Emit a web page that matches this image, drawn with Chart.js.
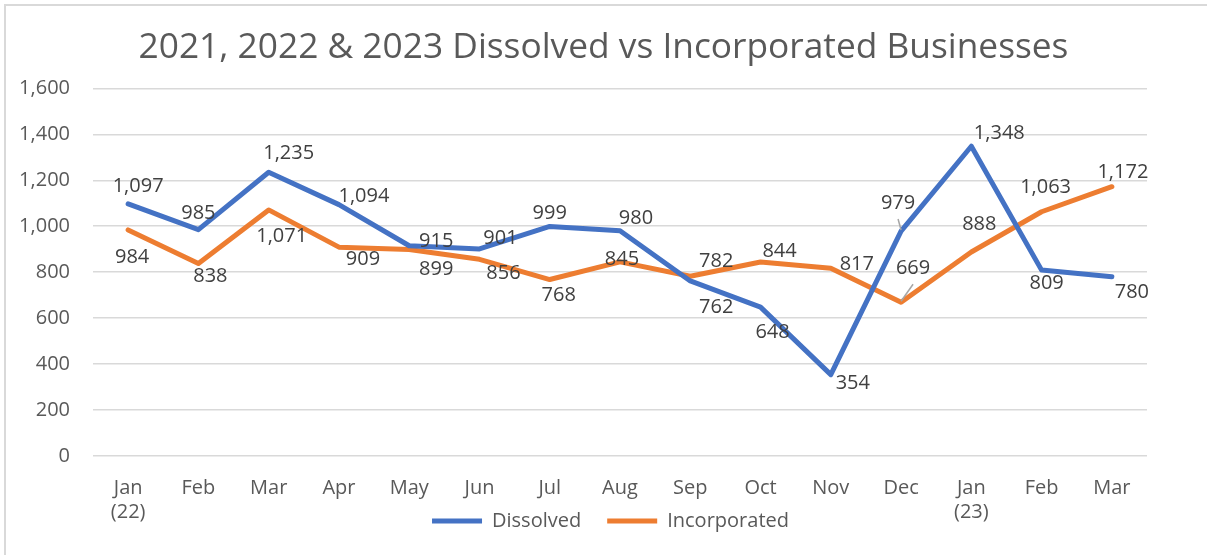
<!DOCTYPE html>
<html>
<head>
<meta charset="utf-8">
<script src="https://cdn.jsdelivr.net/npm/chart.js@4/dist/chart.umd.min.js"></script>
<style>
  html, body { margin: 0; padding: 0; background: #fff; }
  #wrap { position: relative; width: 1207px; height: 555px; }
  #frame { position: absolute; left: 4px; top: 4px; right: 0; bottom: 0;
           border-left: 2px solid #d9d9d9; border-top: 2px solid #d9d9d9; pointer-events: none; }
</style>
</head>
<body>
<div id="wrap">
  <canvas id="chart" width="1207" height="555"></canvas>
  <div id="frame"></div>
</div>
<script>
// DATA
// ---------------------------------------------------
const months = [ ['Jan', '(22)'], 'Feb', 'Mar', 'Apr', 'May', 'Jun', 'Jul', 'Aug',
                 'Sep', 'Oct', 'Nov', 'Dec', ['Jan', '(23)'], 'Feb', 'Mar' ];
const dissolved = [ 1097, 985, 1235, 1094, 915, 901, 999, 980, 762, 648, 354, 979, 1348, 809, 780 ];
const incorporated = [ 984, 838, 1071, 909, 899, 856, 768, 845, 782, 844, 817, 669, 888, 1063, 1172 ];
const yTicks = [ 0, 200, 400, 600, 800, 1000, 1200, 1400, 1600 ];

// LABEL PLACEMENT (offset from point, leader line flag)
// ---------------------------------------------------
const dissolvedLabelPos = [
    [10, -18], [0, -16], [20, -19], [25, -8], [27, -4], [21, -11], [0, -13], [16, -13],
    [26, 26], [12, 25], [22, 9], [-3, -28, true], [28, -13], [5, 13], [20, 16]
];
const incorporatedLabelPos = [
    [4, 27], [12, 13], [13, 26], [24, 12], [27, 20], [24, 14], [9, 16], [2, -3],
    [26, -15], [19, -11], [26, -4], [12, -34, true], [8, -28], [4, -24], [11, -14]
];

const FONT = '"Open Sans", "Noto Sans", sans-serif';

// DATA LABELS PLUGIN
// ---------------------------------------------------
const valueLabels = {
    id: 'valueLabels',
    afterDatasetsDraw( chart ) {
        const ctx = chart.ctx;
        const positions = [ dissolvedLabelPos, incorporatedLabelPos ];
        ctx.save();
        ctx.font = '20px ' + FONT;
        ctx.textAlign = 'center';
        ctx.textBaseline = 'middle';
        chart.data.datasets.forEach( ( ds, i ) => {
            const meta = chart.getDatasetMeta( i );
            meta.data.forEach( ( pt, j ) => {
                const [ dx, dy, leader ] = positions[ i ][ j ];
                const lx = pt.x + dx;
                const ly = pt.y + dy;
                if ( leader ) {
                    ctx.strokeStyle = '#a6a6a6';
                    ctx.lineWidth = 1.5;
                    ctx.beginPath();
                    ctx.moveTo( lx, ly + 16 );
                    ctx.lineTo( pt.x, pt.y - 1 );
                    ctx.stroke();
                }
                ctx.fillStyle = '#404040';
                ctx.fillText( ds.data[ j ].toLocaleString( 'en-US' ), lx, ly );
            });
        });
        ctx.restore();
    }
};

// CENTER TITLE / LEGEND ON THE WHOLE FRAME, LEGEND NEXT TO TICK LABELS
// ---------------------------------------------------
const boxTweaks = {
    id: 'boxTweaks',
    afterLayout( chart ) {
        chart.titleBlock.right = chart.width;
        const lg = chart.legend;
        const h = lg.bottom - lg.top;
        lg.left += 37;
        lg.right += 37;
        lg.top = chart.chartArea.bottom + 29;
        lg.bottom = lg.top + h;
    }
};

const lineChart = new Chart( document.getElementById( 'chart' ), {
    type: 'line',
    data: {
        labels: months,
        datasets: [
            {
                label: 'Dissolved',
                data: dissolved,
                borderColor: '#4472c4',
                backgroundColor: '#4472c4',
                borderWidth: 5,
                borderCapStyle: 'round',
                borderJoinStyle: 'round',
                pointRadius: 0,
                tension: 0
            },
            {
                label: 'Incorporated',
                data: incorporated,
                borderColor: '#ed7d31',
                backgroundColor: '#ed7d31',
                borderWidth: 5,
                borderCapStyle: 'round',
                borderJoinStyle: 'round',
                pointRadius: 0,
                tension: 0
            }
        ]
    },
    options: {
        responsive: false,
        animation: false,
        locale: 'en-US',
        layout: { padding: { left: 0, right: 60, top: 0, bottom: -27 } },
        plugins: {
            title: {
                display: true,
                text: '2021, 2022 & 2023 Dissolved vs Incorporated Businesses',
                color: '#595959',
                font: { family: FONT, size: 35.3, weight: 'normal' },
                padding: { top: 27, bottom: 19 }
            },
            legend: {
                position: 'bottom',
                labels: {
                    usePointStyle: true,
                    pointStyle: 'line',
                    pointStyleWidth: 50,
                    boxWidth: 50,
                    padding: 26,
                    color: '#595959',
                    font: { family: FONT, size: 20 }
                }
            },
            tooltip: { enabled: false }
        },
        scales: {
            x: {
                offset: true,
                grid: { display: false },
                border: { display: false },
                ticks: {
                    color: '#595959',
                    font: { family: FONT, size: 20 },
                    padding: 12,
                    maxRotation: 0,
                    autoSkip: false
                },
                afterFit( scale ) { scale.height = 70; }
            },
            y: {
                min: 0,
                max: 1600,
                grid: { color: '#d9d9d9', lineWidth: 1.5, drawTicks: false },
                border: { display: false },
                afterBuildTicks( scale ) { scale.ticks = yTicks.map( v => ({ value: v }) ); },
                ticks: {
                    color: '#595959',
                    font: { family: FONT, size: 20 },
                    padding: 23
                },
                afterFit( scale ) { scale.width = 93; }
            }
        }
    },
    plugins: [ valueLabels, boxTweaks ]
});
</script>
</body>
</html>
